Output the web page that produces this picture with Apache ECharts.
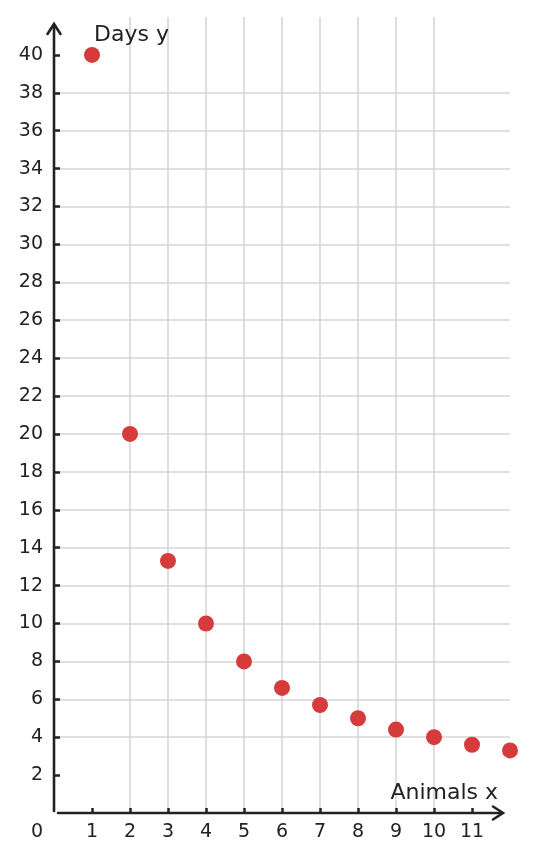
<!DOCTYPE html>
<html>
<head>
<meta charset="utf-8">
<script src="https://cdn.jsdelivr.net/npm/echarts@6/dist/echarts.min.js"></script>
<style>
html,body{margin:0;padding:0;background:#fff;}
#chart{width:534px;height:862px;}
</style>
</head>
<body>
<div id="chart"></div>
<script>
var animalsX = [1, 2, 3, 4, 5, 6, 7, 8, 9, 10, 11, 12];
var daysY = [40, 20, 13.3, 10, 8, 6.6, 5.7, 5, 4.4, 4, 3.6, 3.3];
var xTickLabels = [1, 2, 3, 4, 5, 6, 7, 8, 9, 10, 11];
var yTickLabels = [2, 4, 6, 8, 10, 12, 14, 16, 18, 20, 22, 24, 26, 28, 30, 32, 34, 36, 38, 40];
var xAxisTitle = 'Animals x';
var yAxisTitle = 'Days y';

var FONT = 'DejaVu Sans';
var TXT = '#222222';
var AX = '#222222';

var chart = echarts.init(document.getElementById('chart'), null, {renderer: 'canvas'});
var points = animalsX.map(function (x, i) { return [x, daysY[i]]; });

chart.setOption({
  animation: false,
  backgroundColor: '#ffffff',
  grid: {left: 54, right: 24, top: 17, bottom: 49, containLabel: false, outerBoundsMode: 'none'},
  xAxis: {
    type: 'value', min: 0, max: 12, interval: 1,
    axisLine: {show: false},
    axisTick: {show: true, inside: true, length: 5, customValues: xTickLabels,
      lineStyle: {color: AX, width: 2.5}},
    axisLabel: {show: true, customValues: xTickLabels, margin: 10,
      fontFamily: FONT, fontSize: 19, color: TXT},
    splitLine: {show: true, showMinLine: false, showMaxLine: false,
      lineStyle: {color: '#d6d6d6', width: 1.6}}
  },
  yAxis: {
    type: 'value', min: 0, max: 42, interval: 2,
    axisLine: {show: false},
    axisTick: {show: true, inside: true, length: 6, customValues: yTickLabels,
      lineStyle: {color: AX, width: 2.5}},
    axisLabel: {show: true, customValues: yTickLabels, margin: 11,
      fontFamily: FONT, fontSize: 19, color: TXT},
    splitLine: {show: true, showMinLine: false, showMaxLine: false,
      lineStyle: {color: '#d6d6d6', width: 1.6}}
  },
  series: [{
    type: 'scatter',
    data: points,
    symbol: 'circle',
    symbolSize: 16,
    itemStyle: {color: '#d63b3b', opacity: 1},
    z: 5
  }]
});

// axes with open arrowheads, positioned via the chart's own scales
var o = chart.convertToPixel({gridIndex: 0}, [0, 0]);
var xe = chart.convertToPixel({gridIndex: 0}, [12, 0]);
var ye = chart.convertToPixel({gridIndex: 0}, [0, 42]);
var ox = o[0], oy = o[1];
var xTip = xe[0] - 7, yTip = ye[1] + 7;
var ls = {stroke: AX, lineWidth: 2.6, lineCap: 'round', lineJoin: 'miter'};

chart.setOption({
  graphic: [
    {type: 'line', z: 10, shape: {x1: ox, y1: oy - 2, x2: ox, y2: yTip + 1}, style: ls},
    {type: 'polyline', z: 10, shape: {points: [[ox - 6.5, yTip + 10], [ox, yTip], [ox + 6.5, yTip + 10]]}, style: ls},
    {type: 'line', z: 10, shape: {x1: ox + 4, y1: oy, x2: xTip - 1, y2: oy}, style: ls},
    {type: 'polyline', z: 10, shape: {points: [[xTip - 10, oy - 6.5], [xTip, oy], [xTip - 10, oy + 6.5]]}, style: ls},
    {type: 'text', z: 10, x: ox - 17, y: oy + 19, style: {text: '0', font: '19px "DejaVu Sans"', fill: TXT, align: 'center', verticalAlign: 'middle'}},
    {type: 'text', z: 10, x: ox + 40, y: yTip + 11, style: {text: yAxisTitle, font: '22px "DejaVu Sans"', fill: TXT, align: 'left', verticalAlign: 'middle'}},
    {type: 'text', z: 10, x: xTip - 5, y: oy - 20, style: {text: xAxisTitle, font: '22px "DejaVu Sans"', fill: TXT, align: 'right', verticalAlign: 'middle'}}
  ]
});
</script>
</body>
</html>
